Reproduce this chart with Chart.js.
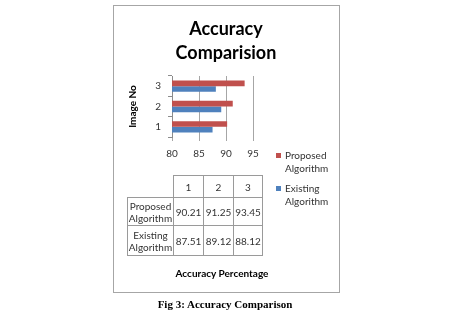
<!DOCTYPE html>
<html>
<head>
<meta charset="utf-8">
<script src="https://cdn.jsdelivr.net/npm/chart.js@4.4.1/dist/chart.umd.min.js"></script>
<style>
  body { margin:0; background:#fff; width:455px; height:324px; overflow:hidden; font-family:Lato, sans-serif; }
  #frame { position:absolute; left:113px; top:5px; width:225px; height:286px; border:1px solid #a6a6a6; }
  #chart { position:absolute; left:0; top:0; }
  .txt { position:absolute; color:#000; }
  #title { left:113px; top:16px; width:226px; text-align:center; font-weight:bold; font-size:18px; line-height:24px; }
  .leg { position:absolute; left:276px; font-size:10px; line-height:12.5px; color:#333; }
  .leg span.box { position:absolute; left:0; top:4px; width:5px; height:5px; }
  .leg div { margin-left:9px; }
  #tbl { position:absolute; left:127px; top:175px; border-collapse:collapse; table-layout:fixed; font-size:10px; color:#333; }
  #tbl td { border:1px solid #9a9a9a; text-align:center; padding:0; line-height:12px; }
  #xtitle { left:113px; top:267px; width:218px; text-align:center; font-weight:bold; font-size:10px; }
  #caption { left:0; top:298px; width:450px; text-align:center; font-family:"Liberation Serif", serif; font-weight:bold; font-size:11px; }
</style>
</head>
<body>
<div id="frame"></div>
<canvas id="chart" width="455" height="324"></canvas>
<div id="title" class="txt">Accuracy<br>Comparision</div>
<div id="legend"></div>
<table id="tbl"></table>
<div id="xtitle" class="txt">Accuracy Percentage</div>
<div id="caption" class="txt">Fig 3: Accuracy Comparison</div>
<script>
// chart data
var imageNo = ["1", "2", "3"];
var proposed = [90.21, 91.25, 93.45];
var existing = [87.51, 89.12, 88.12];
var xTicks = [80, 85, 90, 95];
var seriesNames = ["Proposed Algorithm", "Existing Algorithm"];
var seriesColors = ["#c0504d", "#4f81bd"];

// ---------------------------
// Bar chart
// ---------------------------
new Chart(document.getElementById("chart"), {
    type: "bar",
    data: {
        labels: imageNo,
        datasets: [
            { label: seriesNames[0], data: proposed, backgroundColor: seriesColors[0] },
            { label: seriesNames[1], data: existing, backgroundColor: seriesColors[1] }
        ]
    },
    options: {
        indexAxis: "y",
        responsive: false,
        animation: false,
        datasets: { bar: { categoryPercentage: 0.56, barPercentage: 1 } },
        layout: { padding: { left: 120, right: 202, top: 76, bottom: 165 } },
        plugins: { legend: { display: false }, tooltip: { enabled: false } },
        scales: {
            x: {
                min: xTicks[0],
                max: xTicks[xTicks.length - 1],
                afterBuildTicks: function(s) { s.ticks = xTicks.map(function(v){ return {value: v}; }); },
                afterFit: function(s) { s.height = 22; },
                border: { display: false },
                grid: { color: "#a6a6a6", tickLength: 4 },
                ticks: { color: "#333", padding: 7, font: { family: "Lato", size: 10 } }
            },
            y: {
                reverse: true,
                afterFit: function(s) { s.width = 52; },
                border: { display: true, color: "#8c8c8c" },
                grid: { drawOnChartArea: false, color: "#8c8c8c", tickLength: 4 },
                ticks: { color: "#333", padding: 7, font: { family: "Lato", size: 10 } },
                title: { display: true, text: "Image No", color: "#000", padding: { top: 7, bottom: 0 },
                         font: { family: "Lato", size: 10, weight: "bold" } }
            }
        }
    }
});

// ---------------------------
// Legend
// ---------------------------
var legendTops = [149, 182];
var legendHtml = "";
for (var i = 0; i < seriesNames.length; i++) {
    var words = seriesNames[i].split(" ");
    legendHtml += '<div class="leg" style="top:' + legendTops[i] + 'px">' +
        '<span class="box" style="background:' + seriesColors[i] + '"></span>' +
        '<div>' + words[0] + '<br>' + words[1] + '</div></div>';
}
document.getElementById("legend").innerHTML = legendHtml;

// ---------------------------
// Data table
// ---------------------------
var colW = [45, 29, 29, 28];
var rowH = [22, 28, 30];
var rows = [[""].concat(imageNo), [seriesNames[0]].concat(proposed), [seriesNames[1]].concat(existing)];
var html = "";
for (var r = 0; r < rows.length; r++) {
    html += '<tr style="height:' + rowH[r] + 'px">';
    for (var c = 0; c < rows[r].length; c++) {
        var v = rows[r][c];
        var style = 'width:' + colW[c] + 'px;';
        if (r === 0 && c === 0) style += 'border-top:none;border-left:none;';
        if (c === 0 && r > 0) v = String(v).replace(" ", "<br>");
        else if (r > 0) v = v.toFixed(2);
        html += '<td style="' + style + '">' + v + '</td>';
    }
    html += '</tr>';
}
document.getElementById("tbl").innerHTML = html;
</script>
</body>
</html>
